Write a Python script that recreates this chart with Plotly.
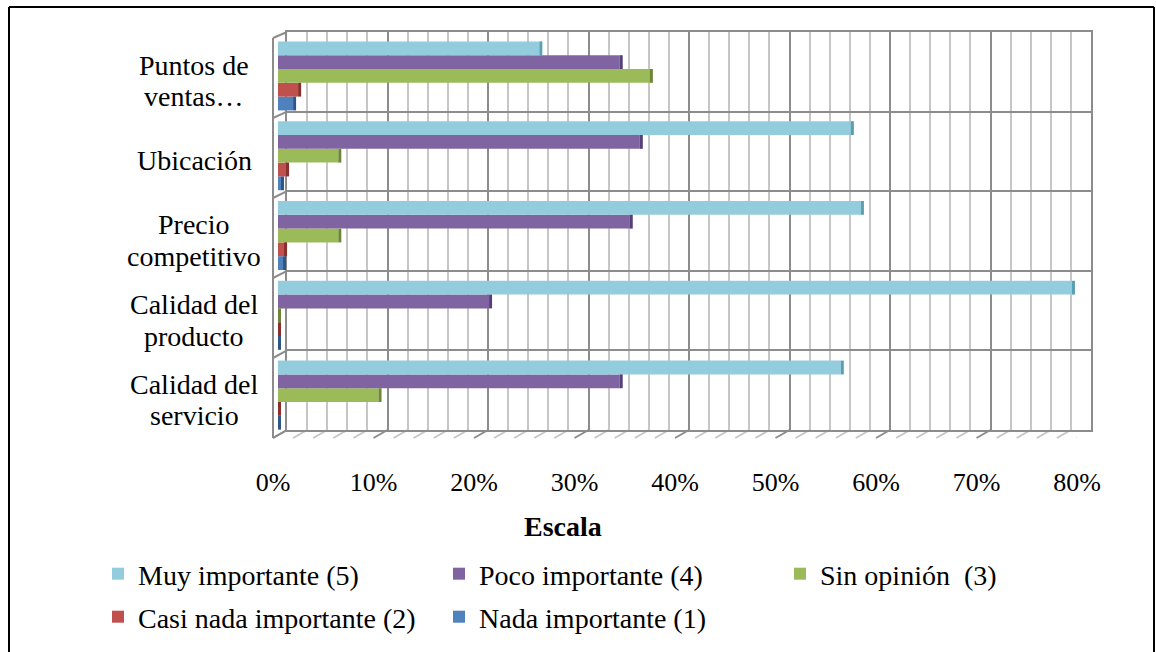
import plotly.graph_objects as go

# ---- data -------------------------------------------------------------
categories = ["Calidad del servicio", "Calidad del producto", "Precio competitivo",
              "Ubicación", "Puntos de ventas"]
category_labels = [["Calidad del", "servicio"], ["Calidad del", "producto"],
                   ["Precio", "competitivo"], ["Ubicación"], ["Puntos de", "ventas…"]]

series_names = ["Nada importante (1)", "Casi nada importante (2)", "Sin opinión  (3)",
                "Poco importante (4)", "Muy importante (5)"]
nada = [0.0, 0.0, 0.005, 0.003, 0.015]
casi = [0.0, 0.0, 0.006, 0.008, 0.02]
sin_opinion = [0.10, 0.0, 0.06, 0.06, 0.37]
poco = [0.34, 0.21, 0.35, 0.36, 0.34]
muy = [0.56, 0.79, 0.58, 0.57, 0.26]
series_values = [nada, casi, sin_opinion, poco, muy]
# legend row each series is listed in
series_legend = ["legend2", "legend2", "legend", "legend", "legend"]

tick_values = [0, 0.1, 0.2, 0.3, 0.4, 0.5, 0.6, 0.7, 0.8]
x_title = "Escala"

# ---- styling ----------------------------------------------------------
face_colors = ["#4F81BD", "#C0504D", "#9BBB59", "#8064A2", "#93CDDD"]
side_colors = ["#2E5584", "#8A2E2B", "#6B8636", "#56407A", "#5A9FB3"]
FONT = "Liberation Serif"
W, H = 1156, 652
GRID_MAJOR = "#8c8c8c"
GRID_MINOR = "#c6c6c6"


def fx(p):
    return p / W


def fy(p):
    return 1 - p / H


# pixel frames of the pseudo-3D box: back wall, front edge, bar plane
BACK = dict(x0=287, x1=1091, y0=32, y1=430)
FRONT = dict(x0=273, x1=1077, y0=38, y1=438)
BARS = dict(x0=278, x1=1082, y0=36, y1=435)
DEPTH_PX = BACK["x0"] - FRONT["x0"]
SIDE = 0.003  # thickness of the shaded bar ends

fig = go.Figure()

# back wall subplot (drawn first so everything else sits in front of it)
fig.add_trace(go.Scatter(x=[0], y=[0], xaxis="x", yaxis="y", mode="markers",
                         marker=dict(opacity=0), hoverinfo="skip", showlegend=False))
# front edge subplot carrying the value labels
fig.add_trace(go.Scatter(x=[0], y=[0], xaxis="x2", yaxis="y2", mode="markers",
                         marker=dict(opacity=0), hoverinfo="skip", showlegend=False))

# bars
for name, vals, col, leg in zip(series_names, series_values, face_colors, series_legend):
    fig.add_trace(go.Bar(
        y=categories, x=vals, name=name, orientation="h",
        marker=dict(color=col, line=dict(width=0)),
        offsetgroup=name, xaxis="x3", yaxis="y3", legend=leg,
    ))
# darker end faces of each bar
for name, vals, col in zip(series_names, series_values, side_colors):
    fig.add_trace(go.Bar(
        y=categories, x=[SIDE] * len(vals), base=vals, orientation="h",
        marker=dict(color=col, line=dict(width=0)),
        offsetgroup=name, xaxis="x3", yaxis="y3", showlegend=False, hoverinfo="skip",
    ))

shapes = []
# floor slashes joining front and back tick positions
k = 0
v = 0.0
while v <= 0.8 + 1e-9:
    major = k % 5 == 0
    shapes.append(dict(type="line", xref="x2", xsizemode="pixel", xanchor=v,
                       x0=0, x1=DEPTH_PX, yref="paper",
                       y0=fy(FRONT["y1"]), y1=fy(BACK["y1"]),
                       line=dict(color=GRID_MAJOR if major else GRID_MINOR, width=2),
                       layer="below"))
    k += 1
    v = round(k * 0.02, 4)

# left wall
n_cat = len(categories)
shapes.append(dict(type="line", xref="paper", yref="paper",
                   x0=fx(FRONT["x0"]), x1=fx(FRONT["x0"]),
                   y0=fy(FRONT["y0"]), y1=fy(FRONT["y1"]),
                   line=dict(color=GRID_MAJOR, width=2), layer="below"))
for i in range(n_cat + 1):
    yf = FRONT["y0"] + (FRONT["y1"] - FRONT["y0"]) * i / n_cat
    yb = BACK["y0"] + (BACK["y1"] - BACK["y0"]) * i / n_cat
    shapes.append(dict(type="line", xref="paper", yref="paper",
                       x0=fx(FRONT["x0"]), x1=fx(BACK["x0"]), y0=fy(yf), y1=fy(yb),
                       line=dict(color=GRID_MAJOR, width=2), layer="below"))

# outer frame (left, top, right; the bottom runs past the page)
frame = dict(color="black", width=2)
shapes += [
    dict(type="line", xref="paper", yref="paper", x0=fx(9), x1=fx(9), y0=0, y1=fy(7), line=frame),
    dict(type="line", xref="paper", yref="paper", x0=fx(9), x1=fx(1154), y0=fy(7), y1=fy(7), line=frame),
    dict(type="line", xref="paper", yref="paper", x0=fx(1154), x1=fx(1154), y0=0, y1=fy(7), line=frame),
]

annotations = []
LINE_STEP = 31.5
for cat, lines in zip(categories, category_labels):
    n = len(lines)
    for j, line in enumerate(lines):
        annotations.append(dict(
            text=line, xref="paper", x=fx(194), yref="y3", y=cat,
            xanchor="center", yanchor="middle", showarrow=False,
            yshift=-5 + (n - 1) / 2 * LINE_STEP - j * LINE_STEP,
            font=dict(family=FONT, size=28, color="black"),
        ))
annotations.append(dict(
    text="<b>%s</b>" % x_title, xref="paper", yref="paper", x=fx(563), y=fy(526),
    xanchor="center", yanchor="middle", showarrow=False,
    font=dict(family=FONT, size=28, color="black"),
))

legend_style = dict(orientation="h", x=fx(98), xanchor="left", yanchor="top",
                    traceorder="reversed", entrywidth=296, entrywidthmode="pixels",
                    font=dict(family=FONT, size=28, color="black"),
                    bgcolor="rgba(0,0,0,0)")

fig.update_layout(
    width=W, height=H, autosize=False,
    margin=dict(l=0, r=0, t=0, b=0, pad=0, autoexpand=False),
    paper_bgcolor="white", plot_bgcolor="rgba(0,0,0,0)",
    barmode="group", bargap=0.135, bargroupgap=0,
    showlegend=True,
    legend=dict(legend_style, y=fy(549)),
    legend2=dict(legend_style, y=fy(592)),
    xaxis=dict(domain=[fx(BACK["x0"]), fx(BACK["x1"])], range=[0, 0.8], anchor="y",
               showgrid=True, gridcolor=GRID_MAJOR, gridwidth=2, dtick=0.1, tick0=0,
               minor=dict(dtick=0.02, showgrid=True, gridcolor=GRID_MINOR, gridwidth=2),
               showticklabels=False, ticks="", zeroline=False, automargin=False,
               showline=True, linecolor=GRID_MAJOR, linewidth=2, mirror=True),
    yaxis=dict(domain=[fy(BACK["y1"]), fy(BACK["y0"])], range=[0, n_cat], anchor="x",
               showgrid=True, gridcolor=GRID_MAJOR, gridwidth=2, dtick=1, tick0=0,
               showticklabels=False, ticks="", zeroline=False, automargin=False,
               showline=True, linecolor=GRID_MAJOR, linewidth=2, mirror=True),
    xaxis2=dict(domain=[fx(FRONT["x0"]), fx(FRONT["x1"])], range=[0, 0.8], anchor="y2",
                tickvals=tick_values, tickformat=".0%", showgrid=False, zeroline=False,
                showline=False, ticks="", ticklabelstandoff=26, automargin=False,
                tickfont=dict(family=FONT, size=26, color="black")),
    yaxis2=dict(domain=[fy(FRONT["y1"]), fy(FRONT["y0"])], range=[0, 1], anchor="x2",
                visible=False, automargin=False),
    xaxis3=dict(domain=[fx(BARS["x0"]), fx(BARS["x1"])], range=[0, 0.8], anchor="y3",
                visible=False, automargin=False),
    yaxis3=dict(domain=[fy(BARS["y1"]), fy(BARS["y0"])], anchor="x3",
                type="category", categoryorder="array", categoryarray=categories,
                range=[-0.5, n_cat - 0.5], visible=False, automargin=False),
    shapes=shapes,
    annotations=annotations,
)

fig.write_html("out.html")
